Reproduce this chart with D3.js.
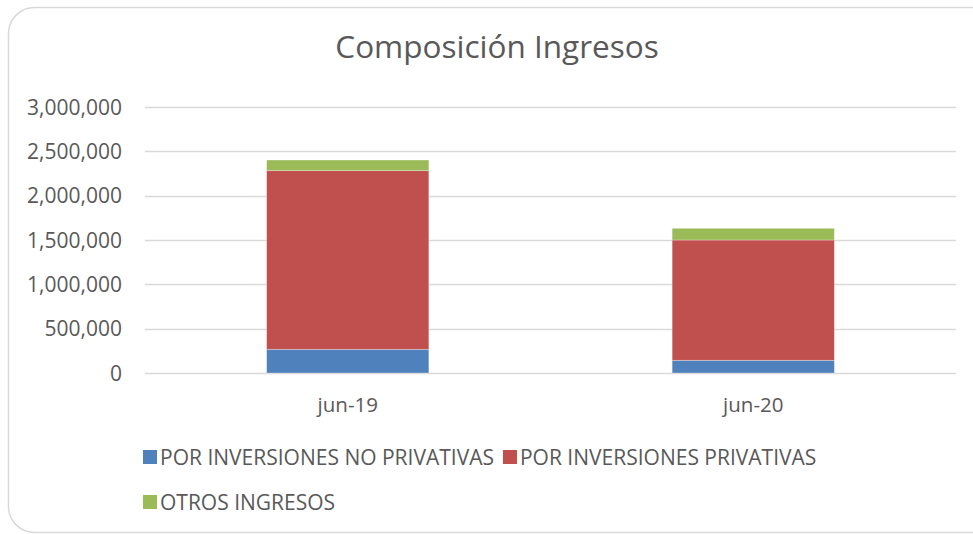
<!DOCTYPE html>
<html>
<head>
<meta charset="utf-8">
<script src="https://cdn.jsdelivr.net/npm/d3@7"></script>
<style>
  body { margin: 0; background: #fff; }
  text { font-family: "Open Sans", sans-serif; fill: #595959; }
</style>
</head>
<body>
<div id="chart"></div>
<script>
var width = 973;
var height = 534;

// data
var categories = ["jun-19", "jun-20"];
var seriesNames = ["POR INVERSIONES NO PRIVATIVAS", "POR INVERSIONES PRIVATIVAS", "OTROS INGRESOS"];
var noPrivativas = [267000, 143000];
var privativas = [2015000, 1357000];
var otros = [120000, 132000];
var yTicks = [0, 500000, 1000000, 1500000, 2000000, 2500000, 3000000];

var color = d3.scaleOrdinal()
    .domain(seriesNames)
    .range(["#4f81bd", "#c0504d", "#9bbb59"]);

var rows = categories.map(function (c, i) {
    return {
        cat: c,
        "POR INVERSIONES NO PRIVATIVAS": noPrivativas[i],
        "POR INVERSIONES PRIVATIVAS": privativas[i],
        "OTROS INGRESOS": otros[i]
    };
});

var svg = d3.select('#chart')
    .append('svg')
    .attr('width', width)
    .attr('height', height);

// chart border
svg.append('rect')
    .attr('x', 8.5)
    .attr('y', 7.5)
    .attr('width', 990)
    .attr('height', 525)
    .attr('rx', 26)
    .attr('fill', '#fff')
    .attr('stroke', '#d9d9d9')
    .attr('stroke-width', 1.5);

svg.append('text')
    .attr('x', 497)
    .attr('y', 58)
    .attr('text-anchor', 'middle')
    .style('font-size', '31.5px')
    .text('Composición Ingresos');

var x = d3.scaleBand()
    .domain(categories)
    .range([145, 956])
    .paddingInner(0.6)
    .paddingOuter(0.3);

var y = d3.scaleLinear()
    .domain([0, 3000000])
    .range([373, 107]);

// gridlines
svg.append('g')
    .selectAll('line')
    .data(yTicks)
    .enter()
    .append('line')
    .attr('x1', 145)
    .attr('x2', 956)
    .attr('y1', function (d) { return Math.round(y(d)) + 0.5; })
    .attr('y2', function (d) { return Math.round(y(d)) + 0.5; })
    .attr('stroke', '#d9d9d9')
    .attr('stroke-width', 1.5);

// y labels
svg.append('g')
    .selectAll('text')
    .data(yTicks)
    .enter()
    .append('text')
    .attr('x', 122)
    .attr('y', function (d) { return y(d); })
    .attr('dy', '0.36em')
    .attr('text-anchor', 'end')
    .style('font-size', '21px')
    .text(function (d) { return d3.format(',')(d); });

// stacked bars
var stack = d3.stack().keys(seriesNames)(rows);

svg.append('g')
    .selectAll('g')
    .data(stack)
    .enter()
    .append('g')
    .attr('fill', function (d) { return color(d.key); })
    .selectAll('rect')
    .data(function (d) { return d; })
    .enter()
    .append('rect')
    .attr('x', function (d) { return x(d.data.cat); })
    .attr('width', x.bandwidth())
    .attr('y', function (d) { return y(d[1]); })
    .attr('height', function (d) { return y(d[0]) - y(d[1]); })
    .attr('stroke', '#fff')
    .attr('stroke-opacity', 0.4)
    .attr('stroke-width', 0.75);

// category labels
svg.append('g')
    .selectAll('text')
    .data(categories)
    .enter()
    .append('text')
    .attr('x', function (d) { return x(d) + x.bandwidth() / 2; })
    .attr('y', 412)
    .attr('text-anchor', 'middle')
    .style('font-size', '20.5px')
    .text(function (d) { return d; });

// legend, flowing left to right and wrapping
var legendX = 143;
var legendY = 457;
var legendMax = 960;
var boxSize = 14;
var rowGap = 45;
var cx = legendX, cy = legendY;

seriesNames.forEach(function (name) {
    var g = svg.append('g');
    var t = g.append('text')
        .attr('x', boxSize + 3)
        .attr('dy', '0.36em')
        .style('font-size', '21px')
        .text(name);
    var w = boxSize + 3 + t.node().getComputedTextLength() + 9;
    if (cx + w > legendMax && cx > legendX) {
        cx = legendX;
        cy += rowGap;
    }
    g.attr('transform', 'translate(' + cx + ',' + cy + ')');
    g.append('rect')
        .attr('x', 0)
        .attr('y', -boxSize / 2)
        .attr('width', boxSize)
        .attr('height', boxSize)
        .attr('fill', color(name));
    cx += w;
});
</script>
</body>
</html>
